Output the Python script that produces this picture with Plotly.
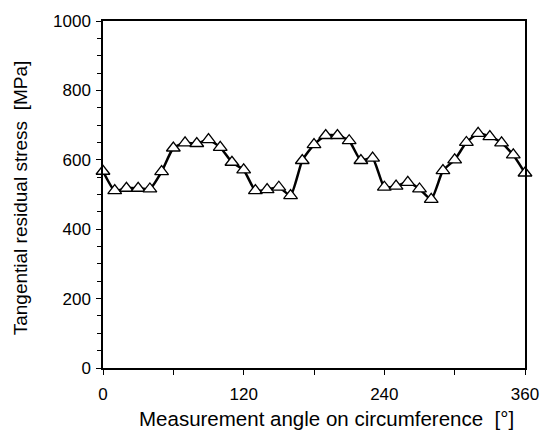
import plotly.graph_objects as go

angle_deg = [0, 10, 20, 30, 40, 50, 60, 70, 80, 90, 100, 110, 120,
             130, 140, 150, 160, 170, 180, 190, 200, 210, 220, 230, 240,
             250, 260, 270, 280, 290, 300, 310, 320, 330, 340, 350, 360]
stress_mpa = [567, 511, 518, 518, 516, 566, 634, 649, 647, 658, 636, 593, 571,
              511, 514, 521, 497, 598, 644, 670, 670, 655, 598, 605, 521,
              524, 535, 516, 486, 569, 600, 650, 676, 667, 649, 614, 562]

x_ticks = [0, 120, 240, 360]
y_ticks = [0, 200, 400, 600, 800, 1000]

x_title = "Measurement angle on circumference  [°]"
y_title = "Tangential residual stress  [MPa]"

font_family = "Liberation Sans, Arial, Helvetica, sans-serif"

fig = go.Figure()
fig.add_trace(go.Scatter(
    x=angle_deg, y=stress_mpa,
    mode="lines+markers",
    line=dict(color="black", width=2.5, shape="spline", smoothing=0.5),
    marker=dict(symbol="triangle-up", size=12, color="white",
                line=dict(color="black", width=1.3)),
    cliponaxis=False,
    showlegend=False,
))

fig.update_layout(
    width=551, height=446,
    margin=dict(l=103, r=13, t=20, b=78),
    paper_bgcolor="white", plot_bgcolor="white",
    font=dict(family=font_family, size=17, color="black"),
    xaxis=dict(
        range=[0, 360], tickvals=x_ticks, ticktext=[str(v) for v in x_ticks],
        showgrid=False, zeroline=False,
        showline=True, linecolor="black", linewidth=1.5, mirror=True,
        ticks="outside", ticklen=5, tickwidth=1.2, tickcolor="black",
        minor=dict(dtick=60, tick0=0, ticks="outside", ticklen=5, tickwidth=1.2, tickcolor="black"),
        tickfont=dict(size=17),
        ticklabelstandoff=5,
        ticklabeloverflow="allow",
    ),
    yaxis=dict(
        range=[0, 1000], tickvals=y_ticks, ticktext=[str(v) for v in y_ticks],
        showgrid=False, zeroline=False,
        showline=True, linecolor="black", linewidth=1.5, mirror=True,
        ticks="outside", ticklen=5, tickwidth=1.2, tickcolor="black",
        minor=dict(dtick=50, tick0=0, ticks="outside", ticklen=4, tickwidth=1, tickcolor="black"),
        tickfont=dict(size=17),
        ticklabelstandoff=2,
        ticklabeloverflow="allow",
    ),
    annotations=[
        dict(text=x_title, xref="paper", yref="paper", x=0.529, y=-0.1466,
             xanchor="center", yanchor="middle", showarrow=False,
             font=dict(size=20.5)),
        dict(text=y_title, xref="paper", yref="paper", x=-0.1935, y=0.49,
             xanchor="center", yanchor="middle", showarrow=False, textangle=-90,
             font=dict(size=19)),
    ],
)

fig.write_html("out.html")
